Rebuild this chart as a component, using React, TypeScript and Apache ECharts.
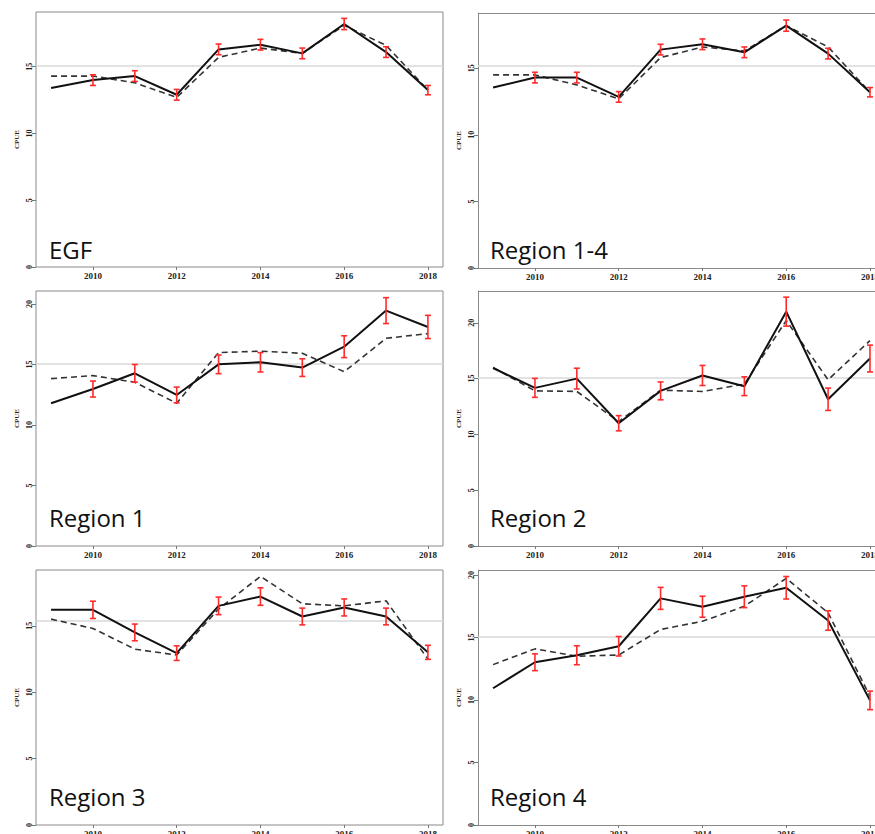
import React, { useEffect, useRef } from "react";
import * as echarts from "echarts";

const years = [2009, 2010, 2011, 2012, 2013, 2014, 2015, 2016, 2017, 2018];
const xTickYears = [2010, 2012, 2014, 2016, 2018];

const egfSolid = [13.4, 14.0, 14.3, 12.9, 16.3, 16.65, 16.0, 18.2, 16.1, 13.25];
const egfDashed = [14.3, 14.3, 13.8, 12.7, 15.7, 16.4, 16.0, 18.1, 16.6, 13.25];
const egfErr = [null, 0.4, 0.4, 0.4, 0.4, 0.4, 0.4, 0.42, 0.4, 0.35];

const r14Solid = [13.55, 14.3, 14.3, 12.85, 16.4, 16.8, 16.2, 18.2, 16.1, 13.2];
const r14Dashed = [14.5, 14.5, 13.75, 12.7, 15.8, 16.6, 16.3, 18.2, 16.6, 13.2];
const r14Err = [null, 0.4, 0.4, 0.4, 0.4, 0.4, 0.4, 0.42, 0.4, 0.35];

const r1Solid = [11.8, 12.97, 14.27, 12.48, 15.01, 15.18, 14.74, 16.47, 19.45, 18.1];
const r1Dashed = [13.83, 14.08, 13.53, 11.8, 15.98, 16.1, 15.92, 14.4, 17.16, 17.55];
const r1Err = [null, 0.66, 0.73, 0.65, 0.77, 0.8, 0.73, 0.9, 1.07, 0.96];

const r2Solid = [15.95, 14.17, 15.0, 11.0, 13.9, 15.28, 14.32, 21.0, 13.15, 16.8];
const r2Dashed = [16.0, 13.9, 13.85, 11.15, 13.96, 13.85, 14.5, 20.2, 14.9, 18.4];
const r2Err = [null, 0.85, 0.93, 0.68, 0.8, 0.9, 0.84, 1.3, 1.0, 1.2];

const r3Solid = [16.2, 16.2, 14.5, 12.94, 16.5, 17.2, 15.7, 16.38, 15.7, 13.0];
const r3Dashed = [15.5, 14.8, 13.24, 12.8, 16.26, 18.72, 16.66, 16.5, 16.88, 12.49];
const r3Err = [null, 0.65, 0.63, 0.55, 0.66, 0.66, 0.63, 0.64, 0.63, 0.53];

const r4Solid = [10.94, 13.02, 13.58, 14.3, 18.13, 17.46, 18.26, 18.98, 16.36, 9.97];
const r4Dashed = [12.83, 14.09, 13.5, 13.6, 15.64, 16.3, 17.5, 19.73, 16.98, 10.3];
const r4Err = [null, 0.67, 0.76, 0.78, 0.88, 0.84, 0.87, 0.9, 0.78, 0.74];

const panelNames = ["EGF", "Region 1-4", "Region 1", "Region 2", "Region 3", "Region 4"];
const meanLines = [15.08, 15.2, 15.04, 15.07, 15.4, 15.05];
const yMaxes = [19.1, 19.15, 21.07, 22.85, 19.2, 20.4];
const yTicksA = [0, 5, 10, 15];
const yTicksB = [0, 5, 10, 15, 20];
const yTickSets = [yTicksA, yTicksA, yTicksB, yTicksB, yTicksA, yTicksB];
const solidSets = [egfSolid, r14Solid, r1Solid, r2Solid, r3Solid, r4Solid];
const dashedSets = [egfDashed, r14Dashed, r1Dashed, r2Dashed, r3Dashed, r4Dashed];
const errSets = [egfErr, r14Err, r1Err, r2Err, r3Err, r4Err];

// x range: left panels show full box; right panels are cut at the page edge
const xMin = 2008.64;
const xMaxLeft = 2018.36;
const xMaxRight = 2018.12;

// layout (pixels)
const gridBoxes = [
  { left: 36, top: 12, width: 407, height: 255 },
  { left: 478, top: 13, width: 397, height: 255 },
  { left: 36, top: 291, width: 407, height: 255 },
  { left: 478, top: 291, width: 397, height: 255 },
  { left: 36, top: 570, width: 407, height: 255 },
  { left: 478, top: 570, width: 397, height: 255 },
];
const labelPos = [
  { x: 49, y: 249 },
  { x: 490, y: 249 },
  { x: 49, y: 517 },
  { x: 490, y: 517 },
  { x: 49, y: 796 },
  { x: 490, y: 796 },
];

const boxColor = "#8a8a8a";
const tickFont = { fontFamily: "Liberation Serif", fontWeight: "bold" as const, fontSize: 9, color: "#222" };

export default function App() {
  const ref = useRef<HTMLDivElement>(null);
  useEffect(() => {
    document.body.style.margin = "0";
    if (!ref.current) return;
    const chart = echarts.init(ref.current, null, { renderer: "svg" });
    const grids: any[] = [];
    const xAxes: any[] = [];
    const yAxes: any[] = [];
    const series: any[] = [];
    const graphics: any[] = [];
    for (let i = 0; i < 6; i++) {
      const g = gridBoxes[i];
      const isRight = i % 2 === 1;
      grids.push({
        ...g,
        outerBoundsMode: "none",
        containLabel: false,
        show: !isRight,
        borderColor: boxColor,
        borderWidth: 1,
        backgroundColor: "transparent",
      });
      xAxes.push({
        type: "value",
        gridIndex: i,
        min: xMin,
        max: isRight ? xMaxRight : xMaxLeft,
        axisLine: { show: isRight, lineStyle: { color: boxColor, width: 1 } },
        splitLine: { show: false },
        axisTick: { show: true, customValues: xTickYears, length: 3, lineStyle: { color: "#777" } },
        axisLabel: { show: true, customValues: xTickYears, margin: 4, ...tickFont, formatter: (v: number) => String(v) },
      });
      yAxes.push({
        type: "value",
        gridIndex: i,
        min: 0,
        max: yMaxes[i],
        axisLine: { show: isRight, lineStyle: { color: boxColor, width: 1 } },
        splitLine: { show: false },
        axisTick: { show: true, customValues: yTickSets[i], length: 4, lineStyle: { color: "#777" } },
        axisLabel: { show: true, customValues: yTickSets[i], rotate: 90, margin: 3, ...tickFont, fontSize: 8 },
        name: "CPUE",
        nameLocation: "middle",
        nameRotate: 90,
        nameGap: 16,
        nameTextStyle: { fontFamily: "Liberation Serif", fontWeight: "bold", fontSize: 7, color: "#222" },
      });
      const dashedData = years.map((y, k) => [y, dashedSets[i][k]]);
      const solidData = years.map((y, k) => [y, solidSets[i][k]]);
      const errData = years
        .map((y, k) => [y, solidSets[i][k], errSets[i][k]])
        .filter((d) => d[2] != null);
      const markData: any[] = [{ yAxis: meanLines[i] }];
      if (isRight) {
        markData.push({ yAxis: yMaxes[i], lineStyle: { color: boxColor, width: 1, type: "solid" } });
      }
      // reference lines (mean + top edge on cut panels), drawn beneath everything
      series.push({
        type: "line",
        xAxisIndex: i,
        yAxisIndex: i,
        data: [],
        symbol: "none",
        z: 1,
        markLine: {
          silent: true,
          symbol: "none",
          z: 1,
          label: { show: false },
          lineStyle: { color: "#d9d9d9", width: 1.5, type: "solid" },
          data: markData,
        },
      });
      series.push({
        type: "line",
        xAxisIndex: i,
        yAxisIndex: i,
        data: dashedData,
        symbol: "none",
        lineStyle: { color: "#333", width: 1.6, type: [6, 4] },
        z: 2,
      });
      series.push({
        type: "line",
        xAxisIndex: i,
        yAxisIndex: i,
        data: solidData,
        symbol: "none",
        lineStyle: { color: "#111", width: 2 },
        z: 3,
      });
      series.push({
        type: "custom",
        xAxisIndex: i,
        yAxisIndex: i,
        data: errData,
        z: 4,
        renderItem: (params: any, api: any) => {
          const x = api.value(0);
          const y = api.value(1);
          const e = api.value(2);
          const top = api.coord([x, y + e]);
          const bot = api.coord([x, y - e]);
          const w = 3;
          const st = { stroke: "#ff2b2b", lineWidth: 1.6 };
          return {
            type: "group",
            children: [
              { type: "line", shape: { x1: top[0], y1: top[1], x2: bot[0], y2: bot[1] }, style: st },
              { type: "line", shape: { x1: top[0] - w, y1: top[1], x2: top[0] + w, y2: top[1] }, style: st },
              { type: "line", shape: { x1: bot[0] - w, y1: bot[1], x2: bot[0] + w, y2: bot[1] }, style: st },
            ],
          };
        },
      });
      graphics.push({
        type: "text",
        x: labelPos[i].x,
        y: labelPos[i].y,
        style: {
          text: panelNames[i],
          fontFamily: "Open Sans",
          fontSize: 24,
          fill: "#111",
          verticalAlign: "middle",
          align: "left",
        },
        z: 10,
      });
    }
    chart.setOption({
      animation: false,
      backgroundColor: "#fff",
      grid: grids,
      xAxis: xAxes,
      yAxis: yAxes,
      series,
      graphic: graphics,
    });
    return () => chart.dispose();
  }, []);
  return <div ref={ref} style={{ width: 875, height: 834 }} />;
}
